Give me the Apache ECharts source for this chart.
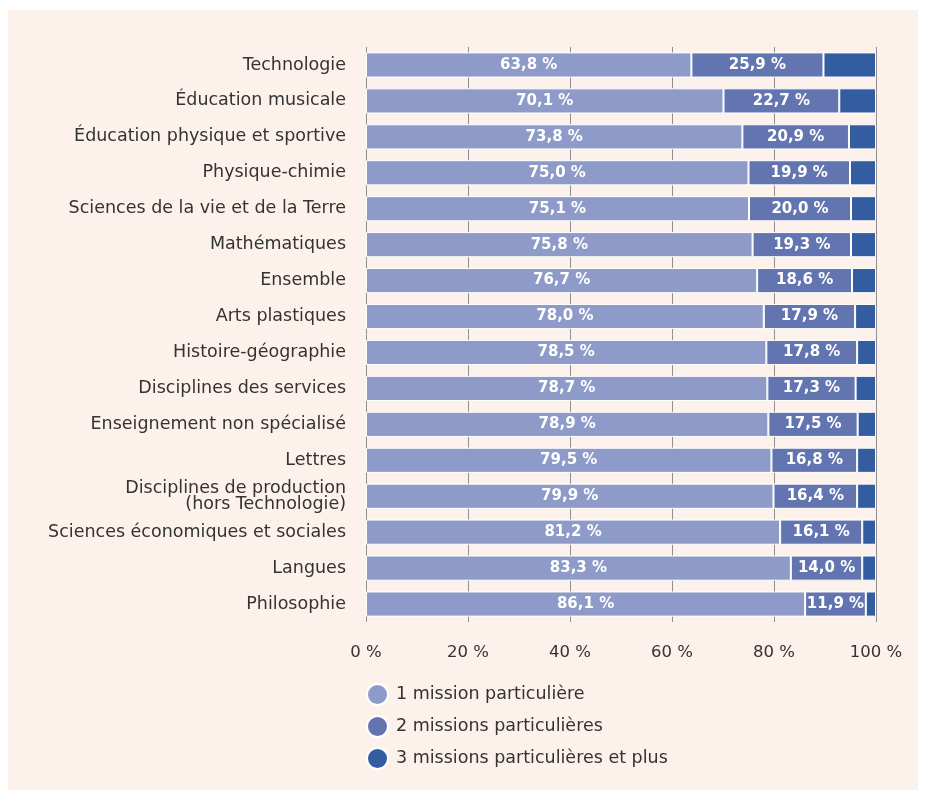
<!DOCTYPE html>
<html><head><meta charset="utf-8">
<script src="https://cdn.jsdelivr.net/npm/echarts@6/dist/echarts.min.js"></script>
<style>html,body{margin:0;padding:0;background:#fff;}#bg{position:absolute;left:8px;top:10px;width:910px;height:780px;background:#fdf1ec;}#c{position:absolute;left:0;top:0;width:925px;height:796px;}</style>
</head><body><div id="bg"></div><div id="c"></div>
<script>
const categories = ["Technologie","Éducation musicale","Éducation physique et sportive","Physique-chimie","Sciences de la vie et de la Terre","Mathématiques","Ensemble","Arts plastiques","Histoire-géographie","Disciplines des services","Enseignement non spécialisé","Lettres","Disciplines de production\n(hors Technologie)","Sciences économiques et sociales","Langues","Philosophie"];
const oneMission = [63.8,70.1,73.8,75.0,75.1,75.8,76.7,78.0,78.5,78.7,78.9,79.5,79.9,81.2,83.3,86.1];
const twoMissions = [25.9,22.7,20.9,19.9,20.0,19.3,18.6,17.9,17.8,17.3,17.5,16.8,16.4,16.1,14.0,11.9];
const threeMissions = [10.3,7.2,5.3,5.1,4.9,4.9,4.7,4.1,3.7,4.0,3.6,3.7,3.7,2.7,2.7,2.0];
const seriesNames = ["1 mission particulière","2 missions particulières","3 missions particulières et plus"];
const colors = ["#8e9bc8","#6375b0","#345ca0"];
const fmt = p => p.value.toFixed(1).replace('.', ',') + ' %';
const font = "'DejaVu Sans', sans-serif";
const chart = echarts.init(document.getElementById('c'));
const mk = (i, data, showLabel) => ({
  name: seriesNames[i], type: 'bar', stack: 't', data: data, barCategoryGap: '30%',
  itemStyle: {color: colors[i], borderColor: '#ffffff', borderWidth: 1},
  label: {show: showLabel, position: 'inside', color: '#fff', fontWeight: 'bold', fontSize: 15, fontFamily: font, formatter: fmt},
  emphasis: {disabled: true}
});
chart.setOption({
  animation: false,
  color: colors,
  grid: {left: 366, right: 49, top: 47, bottom: 174},
  xAxis: {type: 'value', min: 0, max: 100, interval: 20,
    axisLabel: {formatter: v => v + ' %', color: '#333', fontSize: 16.5, fontFamily: font, margin: 22},
    axisLine: {show: false}, axisTick: {show: false},
    splitLine: {show: true, lineStyle: {color: '#8f8f8f', width: 1}}},
  yAxis: {type: 'category', data: categories, inverse: true,
    axisLine: {show: false}, axisTick: {show: false},
    axisLabel: {color: '#333', fontSize: 17.5, fontFamily: font, margin: 20, lineHeight: 16, align: 'right'}},
  legend: {orient: 'vertical', left: 361, top: 678, itemWidth: 21, itemHeight: 21, itemGap: 9, icon: 'circle',
    textStyle: {color: '#333', fontSize: 17.5, fontFamily: font, lineHeight: 20, padding: [0,0,0,3]}, selectedMode: false},
  series: [mk(0, oneMission, true), mk(1, twoMissions, true), mk(2, threeMissions, false)]
});
</script></body></html>
